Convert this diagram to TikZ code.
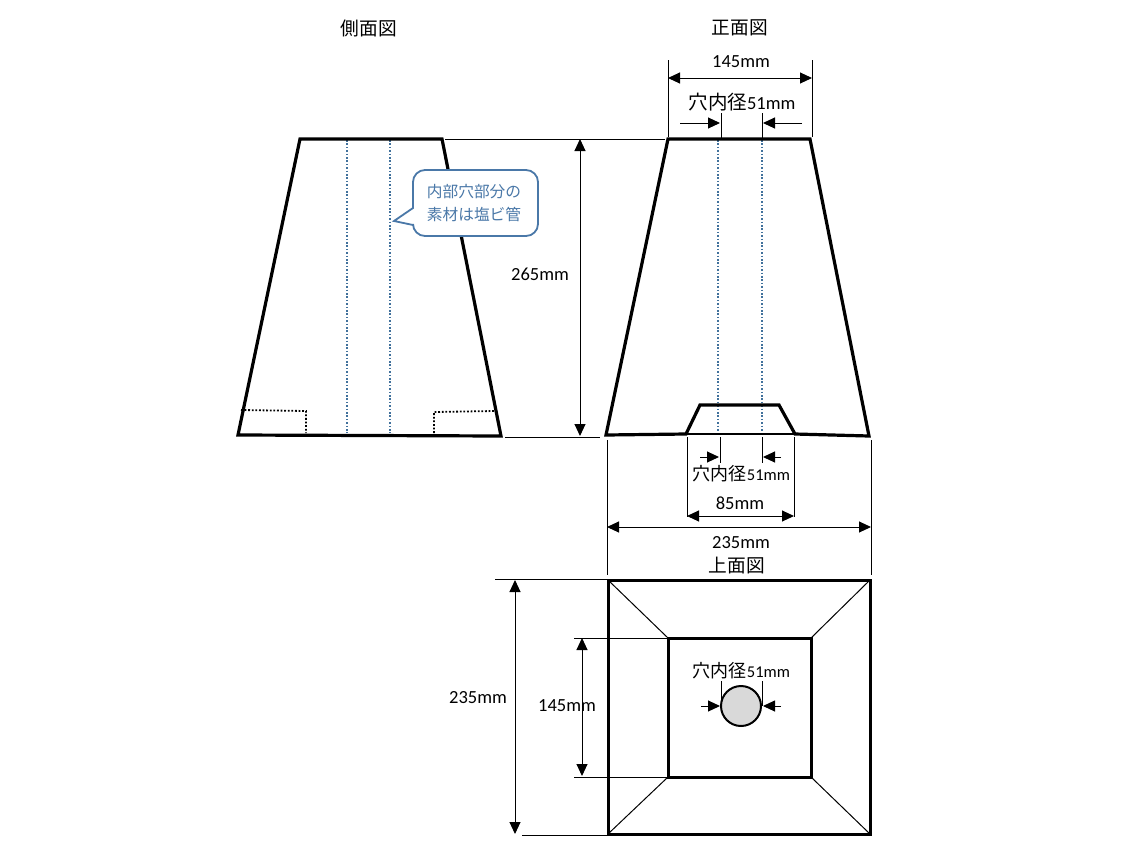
\documentclass[tikz,border=0pt]{standalone}
\usepackage{fontspec}
\setmainfont{Carlito}
\newfontfamily\cjk{Noto Sans CJK JP}
\usetikzlibrary{arrows.meta}
\usetikzlibrary{positioning}
\usetikzlibrary{calc}
\definecolor{holeblue}{HTML}{41719C}
\definecolor{noteblue}{HTML}{4A78A8}
\tikzset{
  body/.style={line width=3.2pt, line join=miter},
  thinline/.style={line width=1pt},
  holeline/.style={line width=1.5pt, holeblue, dash pattern=on 1.6pt off 1.8pt},
  hidden/.style={line width=1.8pt, dash pattern=on 1.8pt off 1.8pt},
  dim/.style={line width=1pt, {Triangle[length=12pt,width=11pt]}-{Triangle[length=12pt,width=11pt]}},
  pointer/.style={line width=1pt, -{Triangle[length=12pt,width=11pt]}},
  label/.style={inner sep=0pt, font=\fontsize{18.5}{20}\selectfont},
  holelabel/.style={inner sep=0pt, font=\fontsize{18.7}{20}\selectfont},
}
\newcommand{\holetext}{{\cjk\fontsize{19.5}{20}\selectfont 穴内径}{\fontsize{18.5}{20}\selectfont 51mm}}
\newcommand{\holetextsmall}{{\cjk\fontsize{18}{20}\selectfont 穴内径}{\fontsize{16.5}{18}\selectfont 51mm}}

\begin{document}
\begin{tikzpicture}[x=1pt, y=-1pt]

\useasboundingbox (0,0) rectangle (1146,860);

\node[holelabel] (sidetitle) at (369,28) {\cjk 側面図};
\node[holelabel] (fronttitle) at (740,28) {\cjk 正面図};
\node[holelabel] (toptitle) at (737,566) {\cjk 上面図};

\coordinate (ftl) at (668,139);
\coordinate (ftr) at (810,139);
\coordinate (fbl) at (606,435);
\coordinate (fbr) at (869,436);
\coordinate (stl) at (300,139);
\coordinate (str) at (442,139);
\coordinate (sbl) at (238,435);
\coordinate (sbr) at (501,436);

\draw[holeline] (347,140) -- (347,433);
\draw[holeline] (390,140) -- (390,433);
\draw[hidden] (241,410) -- (306,411) -- (306,433);
\draw[hidden] (434,433) -- (434,412) -- (495,411);
\draw[body] (stl) -- (str) -- (sbr) -- (sbl) -- cycle;

\draw[holeline] (718,140) -- (718,432);
\draw[holeline] (762,140) -- (762,432);
\draw[body] (fbl) -- (ftl) -- (ftr) -- (fbr) -- (795,434) -- (779,405) -- (700,405) -- (686,434) -- cycle;
\draw[line width=2pt] (686,434) -- (795,434);

\draw[line width=1.8pt, noteblue, fill=white] (394,221) -- (413,208) [rounded corners=12pt] -- (413,170) -- (538,170) -- (538,236) -- (413,236) [sharp corners] -- (413,225) -- cycle;
\node[noteblue, inner sep=0pt, align=center, font=\fontsize{15.7}{23}\selectfont\cjk] (note) at (474,203) {内部穴部分の\\素材は塩ビ管};

\draw[thinline] (445,139) -- (665,139);
\draw[thinline] (505,437) -- (600,437);
\draw[dim] (580,139) -- (580,436);
\node[label] (h265) at (540,274) {265mm};

\draw[thinline] (668,60) -- (668,137);
\draw[thinline] (812,60) -- (812,137);
\draw[dim] (668,78) -- (812,78);
\node[label] (w145) at (741,62) {145mm};
\node[holelabel] (holetop) at (742,102) {\holetext};
\draw[thinline] (721,113) -- (721,138);
\draw[thinline] (762,113) -- (762,138);
\draw[pointer] (680,123) -- (720,123);
\draw[pointer] (802,123) -- (763,123);

\draw[thinline] (720,437) -- (720,463);
\draw[thinline] (762,437) -- (762,463);
\draw[pointer] (700,457) -- (719,457);
\draw[pointer] (781,457) -- (763,457);
\node[holelabel] (holemid) at (741.5,474) {\holetextsmall};
\draw[thinline] (687,437) -- (687,517);
\draw[thinline] (794,437) -- (794,517);
\draw[dim] (687,516) -- (794,516);
\node[label] (w85) at (740,503) {85mm};
\draw[thinline] (607,440) -- (607,575);
\draw[thinline] (871,440) -- (871,575);
\draw[dim] (607,527) -- (871,527);
\node[label] (w235) at (741,543) {235mm};

\coordinate (otl) at (608,580);
\coordinate (otr) at (870,580);
\coordinate (obl) at (608,834);
\coordinate (obr) at (870,834);
\coordinate (itl) at (668,638);
\coordinate (itr) at (811,638);
\coordinate (ibl) at (668,777);
\coordinate (ibr) at (811,777);
\draw[thinline] (otl) -- (itl);
\draw[thinline] (otr) -- (itr);
\draw[thinline] (obl) -- (ibl);
\draw[thinline] (obr) -- (ibr);
\draw[line width=3pt] (otl) rectangle (obr);
\draw[line width=3pt] (itl) rectangle (ibr);

\draw[thinline] (495,579) -- (608,579);
\draw[thinline] (522,835) -- (608,835);
\draw[dim] (515,580) -- (515,834);
\node[label] (h235) at (478,698) {235mm};
\draw[thinline] (574,638) -- (668,638);
\draw[thinline] (574,777) -- (668,777);
\draw[dim] (582,638) -- (582,776);
\node[label] (h145) at (567,706) {145mm};

\node[draw, circle, line width=2pt, fill=black!15, minimum size=40pt, inner sep=0pt] (hole) at (741,706) {};
\node[holelabel] (holelow) at (741.5,671) {\holetextsmall};
\draw[thinline] (721,681) -- (721,706);
\draw[thinline] (762,681) -- (762,706);
\draw[pointer] (701,706) -- (720,706);
\draw[pointer] (781,706) -- (763,706);

\end{tikzpicture}
\end{document}
